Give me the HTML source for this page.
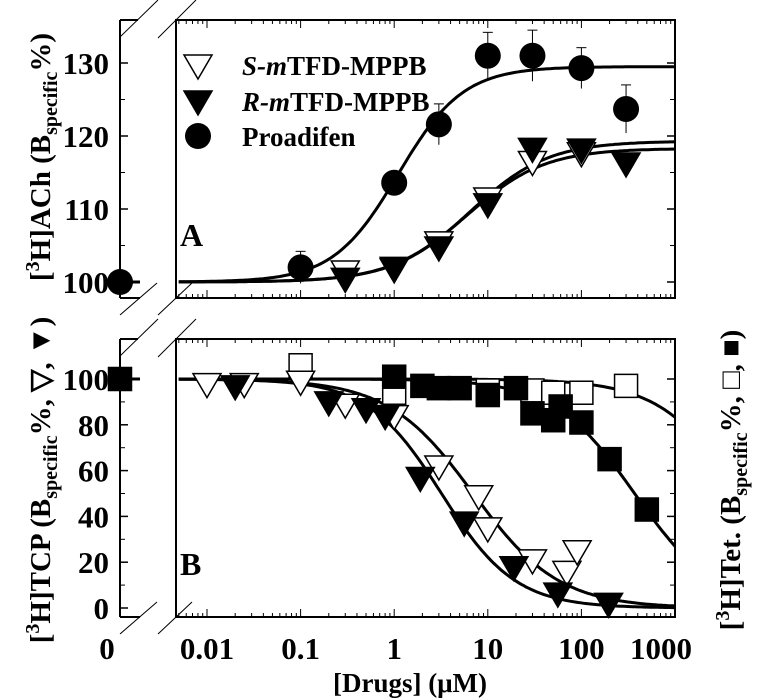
<!DOCTYPE html>
<html><head><meta charset="utf-8"><style>
body{margin:0;background:#fff;}
svg{display:block;font-family:"Liberation Serif",serif;font-weight:bold;}
</style></head><body>
<svg id="c" width="760" height="698" viewBox="0 0 760 698" xmlns="http://www.w3.org/2000/svg"></svg>
<script>
// ---- data ----
const topProX=[0.1,1,3,10,30,100,300];
const topProY=[102,113.6,121.6,131,131,129.3,123.7];
const topProErr=[2.2,1.2,2.8,3.2,3.5,2.8,3.3];
const topSX=[0.3,1,3,10,30,100];
const topSY=[101.5,101.8,105.5,111.5,116.5,117.7];
const topRX=[0.3,1,3,10,30,100,300];
const topRY=[100.5,102,104.8,110.7,118.3,118.2,116.3];
const topZero=[100];
const botSX=[0.01,0.025,0.1,0.3,1,3,8,10,30,70,90];
const botSY=[98,98,99,89,84,62,49,35,21,16,25];
const botRX=[0.02,0.2,0.5,0.8,1.9,5.6,19,56,195];
const botRY=[97,90,87,84,57,37.5,18,6.5,2];
const botFSqX=[1,2,3,5,10,20,30,50,60,100,200,500];
const botFSqY=[101,97,96,96,93,96,85,82,88,81,65,43];
const botOSqX=[0.1,1,10,30,50,100,300];
const botOSqY=[106,94,95,95,94,94,97];
const xTickVals=[0.01,0.1,1,10,100,1000];
const xTickLabels=["0.01","0.1","1","10","100","1000"];
const topYTicks=[100,110,120,130];
const botYTicks=[0,20,40,60,80,100];

// ---- scales ----
const X0=176,X1=675;
const xs=v=>207+(Math.log10(v)+2)*93.6;
const ya=v=>282-(v-100)*7.3;
const yb=v=>608-v*2.29;
const NS="http://www.w3.org/2000/svg";
const svg=document.getElementById('c');
function mk(tag,attrs,parent){const e=document.createElementNS(NS,tag);for(const k in attrs)e.setAttribute(k,attrs[k]);(parent||svg).appendChild(e);return e;}
function line(x1,y1,x2,y2,w,p){return mk('line',{x1,y1,x2,y2,stroke:'#000','stroke-width':w||1},p);}

function frame(top,bot,name){
  const g=mk('g',{});
  
  
  mk('rect',{x:X0,y:top,width:X1-X0,height:bot-top,fill:'none',stroke:'#000','stroke-width':2},g);
  line(120,top,138,top,2,g);line(120,bot,140,bot,2,g);line(120,top,120,bot,2,g);
  line(120,top+17,158,top-20,1,g);line(158,top+18,196,top-20,1,g);
  line(120,bot+17,157,bot-15,1,g);line(158,bot+17,192,bot-15,1,g);
  for(let d=-3;d<=2;d++)for(let m=1;m<10;m++){const v=m*Math.pow(10,d);const x=xs(v);if(x<X0||x>X1)continue;const L=m==1?8:4;line(x,top,x,top+L,1,g);line(x,bot,x,bot-L,1,g);}
  return g;
}
frame(20,298,'panel-a');frame(339,617,'panel-b');

topYTicks.forEach(v=>{const y=ya(v);line(120,y,128,y,1.5);line(X1,y,X1-8,y,1.5);
 const t=mk('text',{x:109,y:y+11,'text-anchor':'end','font-size':31});t.textContent=v;
 });
[105,115,125].forEach(v=>{const y=ya(v);line(120,y,125,y,1);line(X1,y,X1-5,y,1);});
botYTicks.forEach(v=>{const y=yb(v);line(120,y,128,y,1.5);line(X1,y,X1-8,y,1.5);
 const t=mk('text',{x:109,y:y+11,'text-anchor':'end','font-size':31});t.textContent=v;
 });
[10,30,50,70,90].forEach(v=>{const y=yb(v);line(120,y,125,y,1);line(X1,y,X1-5,y,1);});
xTickVals.forEach((v,i)=>{const t=mk('text',{x:xs(v)-(i==5?14:0),y:659,'text-anchor':'middle','font-size':31});t.textContent=xTickLabels[i];
 });
{const t=mk('text',{x:107,y:659,'text-anchor':'middle','font-size':31});t.textContent='0';}

function hillUp(b,top,c,n){return v=>b+(top-b)/(1+Math.pow(c/v,n));}
function hillDn(c,n){return v=>100/(1+Math.pow(v/c,n));}
function curve(f,ys,name){let d='';const l0=Math.log10(0.005);for(let i=0;i<=200;i++){const lv=l0+(3-l0)*i/200;const v=Math.pow(10,lv);d+=(i?'L':'M')+xs(v).toFixed(1)+','+ys(f(v)).toFixed(1);}
 const p=mk('path',{d,fill:'none',stroke:'#000','stroke-width':3});}
curve(hillUp(100,129.5,1.1,1.25),ya,'proadifen-fit');
curve(hillUp(100,118.3,6,1.05),ya,'r-fit-a');
curve(hillUp(100,119.3,6.5,1.05),ya,'s-fit-a');
curve(hillDn(7,0.95),yb,'s-fit-b');
curve(hillDn(3.2,1.1),yb,'r-fit-b');
curve(hillDn(370,1.0),yb,'filled-square-fit');
curve(hillDn(5000,1.0),yb,'open-square-fit');
line(128,ya(100),140,ya(100),3);line(128,yb(100),140,yb(100),3);

function err(x,y,e){if(!e)return;line(x,y-e,x,y+e,1);line(x-5,y-e,x+5,y-e,1);}
function circ(x,y,name){const c=mk('circle',{cx:x,cy:y,r:13,fill:'#000'});}
function tri(x,y,fill,name){const s=14;const p=mk('polygon',{points:`${x-s},${y-10} ${x+s},${y-10} ${x},${y+14}`,fill,stroke:'#000','stroke-width':1.5});}
function sq(x,y,fill,name){const s=11.5;const p=mk('rect',{x:x-s,y:y-s,width:2*s,height:2*s,fill,stroke:'#000','stroke-width':1.5});}

topProX.forEach((v,i)=>{err(xs(v),ya(topProY[i]),topProErr[i]*7.3);});
topSX.forEach((v,i)=>tri(xs(v),ya(topSY[i]),'#fff','s-point-a'));
topRX.forEach((v,i)=>tri(xs(v),ya(topRY[i]),'#000','r-point-a'));
topProX.forEach((v,i)=>circ(xs(v),ya(topProY[i]),'proadifen-point'));
topZero.forEach(v=>circ(120,ya(v),'proadifen-zero'));

botOSqX.forEach((v,i)=>sq(xs(v),yb(botOSqY[i]),'#fff','open-square-point'));
botFSqX.forEach((v,i)=>sq(xs(v),yb(botFSqY[i]),'#000','filled-square-point'));
botSX.forEach((v,i)=>{err(xs(v),yb(botSY[i])-4,6);tri(xs(v),yb(botSY[i]),'#fff','s-point-b');});
botRX.forEach((v,i)=>tri(xs(v),yb(botRY[i]),'#000','r-point-b'));
sq(120,yb(100),'#000','zero-square');

tri(198,65,'#fff','legend-s-icon');tri(198,101,'#000','legend-r-icon');circ(198,136,'legend-proadifen-icon');
function txt(x,y,s,html,name,extra){const t=mk('text',Object.assign({x,y,'font-size':s},extra||{}));t.innerHTML=html;return t;}
txt(242,75,27,'<tspan font-style="italic">S-m</tspan>TFD-MPPB','legend-s');
txt(242,111,27,'<tspan font-style="italic">R-m</tspan>TFD-MPPB','legend-r');
txt(242,146,27,'Proadifen','legend-proadifen');
txt(180,246,32,'A','panel-a-label');
txt(180,575,32,'B','panel-b-label');
txt(410,692,27,'[Drugs] (μM)','x-axis-title',{'text-anchor':'middle'});
txt(0,0,29,'[<tspan font-size="20" dy="-11">3</tspan><tspan dy="11">H]ACh (B</tspan><tspan font-size="20" dy="7">specific</tspan><tspan dy="-7">%)</tspan>','y-axis-title-a',{transform:'translate(50,157) rotate(-90)','text-anchor':'middle'});
txt(0,0,29,'[<tspan font-size="20" dy="-11">3</tspan><tspan dy="11">H]TCP (B</tspan><tspan font-size="20" dy="7">specific</tspan><tspan dy="-7">%, ▽, ▼)</tspan>','y-axis-title-b',{transform:'translate(50,480) rotate(-90)','text-anchor':'middle'});
txt(0,0,29,'[<tspan font-size="20" dy="-11">3</tspan><tspan dy="11">H]Tet. (B</tspan><tspan font-size="20" dy="7">specific</tspan><tspan dy="-7">%, □, ■)</tspan>','y-axis-title-right',{transform:'translate(740,480) rotate(-90)','text-anchor':'middle'});
</script>
</body></html>
